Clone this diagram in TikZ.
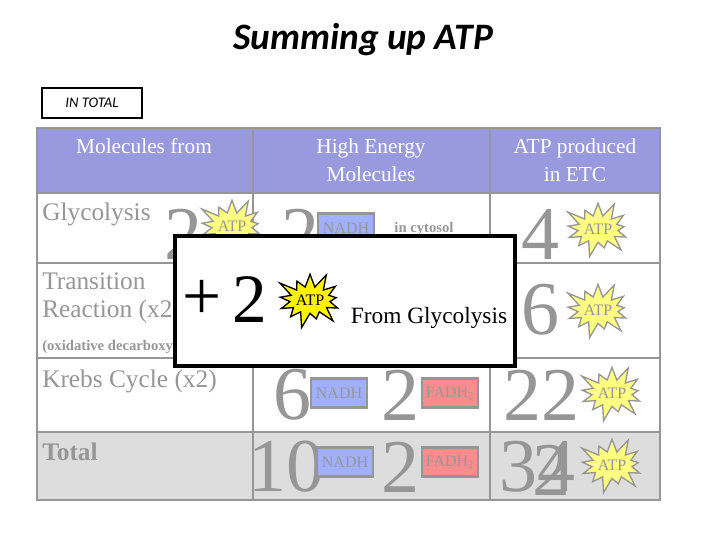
\documentclass[tikz,border=0pt]{standalone}
\usepackage{fontspec}
\setmainfont{Liberation Serif}
\newfontfamily\titlefont{Carlito}
\usetikzlibrary{shapes.symbols}
\definecolor{tg}{RGB}{150,150,150}
\definecolor{hdr}{RGB}{153,153,221}
\definecolor{nadh}{RGB}{160,176,255}
\definecolor{fadh}{RGB}{255,140,140}
\definecolor{atpy}{RGB}{255,255,130}
\definecolor{tot}{RGB}{221,221,221}
\tikzset{
 big/.style={text=tg,font=\fontsize{57}{57}\selectfont,inner sep=0pt},
 lab/.style={text=tg,font=\fontsize{19}{21}\selectfont,inner sep=0pt,anchor=north west,align=left},
 hd/.style={text=white,font=\fontsize{16}{21}\selectfont,align=center},
 nadhbox/.style={draw=tg,line width=2pt,fill=nadh,minimum width=42pt,minimum height=22pt,inner sep=0pt,text=tg,font=\fontsize{12}{12}\selectfont},
 fadhbox/.style={draw=tg,line width=2pt,fill=fadh,minimum width=42pt,minimum height=22pt,inner sep=0pt,text=tg,font=\fontsize{12}{12}\selectfont},
 atp/.style={starburst,starburst points=13,starburst point height=13pt,draw=tg,line width=1pt,fill=atpy,minimum width=54pt,minimum height=46pt,inner sep=0pt,text=tg,font=\fontsize{12}{12}\selectfont},
 atpk/.style={atp,draw=black,fill=yellow,text=black},
 grid/.style={draw=tg,line width=2.2pt}
}
\begin{document}
\begin{tikzpicture}[x=0.75pt,y=-0.75pt]
\useasboundingbox (0,0) rectangle (720,540);
\node[font=\titlefont\bfseries\itshape\fontsize{28}{28}\selectfont] (title) at (363,40) {Summing up ATP};
\node[draw=black,line width=1.5pt,minimum width=75pt,minimum height=22pt,font=\titlefont\itshape\fontsize{11}{11}\selectfont,inner sep=0pt] (intotal) at (92,103) {IN TOTAL};
% table
\fill[hdr] (37,128) rectangle (660,193);
\fill[tot] (37,432) rectangle (660,500);
\draw[grid] (37,128) rectangle (660,500);
\draw[grid] (37,193) -- (660,193) (37,263) -- (660,263) (37,358) -- (660,358) (37,432) -- (660,432);
\draw[grid] (253,128) -- (253,500) (490,128) -- (490,500);
\node[hd,anchor=north] (h1) at (144,134) {Molecules from};
\node[hd,anchor=north] (h2) at (371,134) {High Energy\\Molecules};
\node[hd,anchor=north] (h3) at (575,134) {ATP produced\\in ETC};
% row labels
\node[lab] (r1) at (42,203) {Glycolysis};
\node[lab] (r2) at (42,272) {Transition\\Reaction (x2)};
\node[lab,font=\bfseries\fontsize{11}{11}\selectfont] (r2b) at (42,340) {(oxidative decarboxylation)};
\node[lab] (r3) at (42,370) {Krebs Cycle (x2)};
\node[lab,font=\bfseries\fontsize{19}{21}\selectfont] (r4) at (42,443) {Total};
% glycolysis row
\node[big] (g2) at (183,234) {2};
\node[atp] (ga) at (232,226) {ATP};
\node[big] (gn2) at (300,234) {2};
\node[nadhbox] (gn) at (346,228) {NADH};
\node[text=tg,font=\bfseries\fontsize{11}{11}\selectfont] (cyt) at (424,229) {in cytosol};
\node[big] (e4) at (540,234) {4};
\node[atp] (ea4) at (598,229) {ATP};
% transition row
\node[big] (e6) at (540,310) {6};
\node[atp] (ea6) at (598,310) {ATP};
% krebs row
\node[big] (k6) at (292,395) {6};
\node[nadhbox] (kn) at (339,393) {NADH};
\node[big] (k2) at (400,395) {2};
\node[fadhbox] (kf) at (450,393) {FADH\textsubscript{2}};
\node[big] (e22) at (541,395) {22};
\node[atp] (ea22) at (612,393) {ATP};
% total row
\node[big] (t10) at (286,467) {10};
\node[nadhbox] (tn) at (345,462) {NADH};
\node[big] (t2) at (400,467) {2};
\node[fadhbox] (tf) at (450,462) {FADH\textsubscript{2}};
\node[big] (e34) at (537,467) {34};
\node[big] (e32) at (551,470) {2};
\node[atp] (ea34) at (612,465) {ATP};
% overlay box
\node[draw=black,fill=white,line width=3pt,minimum width=255pt,minimum height=97pt,inner sep=0pt] (ov) at (345,301) {};
\node[font=\fontsize{52}{52}\selectfont,inner sep=0pt] (plus) at (202,300) {+};
\node[font=\fontsize{52}{52}\selectfont,inner sep=0pt] (two) at (250,300) {2};
\node[atpk] (ova) at (310,300) {ATP};
\node[font=\fontsize{17.5}{17.5}\selectfont,inner sep=0pt] (fg) at (429,318) {From Glycolysis};
\end{tikzpicture}
\end{document}
